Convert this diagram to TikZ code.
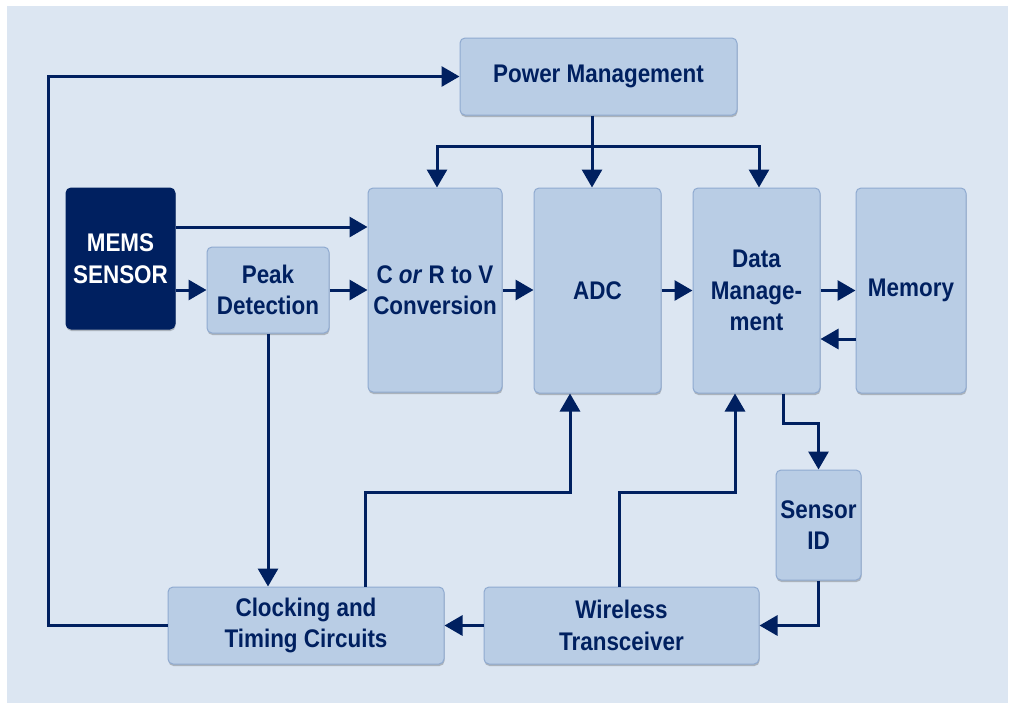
\documentclass[tikz,border=0pt]{standalone}
\usepackage{fontspec}
\setmainfont[FakeStretch=0.88]{Liberation Sans}
\usetikzlibrary{arrows.meta,shadows}
\definecolor{panel}{HTML}{DCE6F2}
\definecolor{boxfill}{HTML}{B9CDE5}
\definecolor{boxline}{HTML}{8FAAD0}
\definecolor{navy}{HTML}{002060}
\begin{document}
\begin{tikzpicture}[x=1pt,y=-1pt,
  blk/.style={draw=boxline, fill=boxfill, line width=1pt, rounded corners=5pt,
    inner sep=0pt, text=navy, align=center, font=\fontsize{25.5}{31.5}\selectfont\bfseries,
    drop shadow={shadow xshift=0.5pt, shadow yshift=-2pt, fill=black, opacity=0.22}},
  dark/.style={blk, fill=navy, draw=navy, text=white},
  conn/.style={draw=navy, line width=3pt, -{Triangle[length=18pt,width=20pt]}}]
\useasboundingbox (0,0) rectangle (1010,707);
\fill[white] (0,0) rectangle (1010,707);
\fill[panel] (7,6) rectangle (1008,703);
\node[blk, minimum width=277pt, minimum height=77pt] (pm) at (598.5,76.5) {Power Management};
\node[dark, minimum width=109pt, minimum height=141pt] (mems) at (120.5,258.5) {MEMS\\SENSOR};
\node[blk, minimum width=122pt, minimum height=86pt] (peak) at (268,290) {Peak\\Detection};
\node[blk, minimum width=134pt, minimum height=204pt] (crv) at (435,290) {C \textit{or} R to V\\Conversion};
\node[blk, minimum width=127pt, minimum height=205pt] (adc) at (597.5,290.5) {ADC};
\node[blk, minimum width=127pt, minimum height=205pt] (dm) at (756.5,290.5) {Data\\Manage-\\ment};
\node[blk, minimum width=110pt, minimum height=205pt] (mem) at (911,290.5) {Memory};
\node[blk, minimum width=85pt, minimum height=110pt] (sid) at (818.5,525) {Sensor\\ID};
\node[blk, minimum width=276pt, minimum height=77pt] (clk) at (306,625.5) {Clocking and\\Timing Circuits};
\node[blk, minimum width=275pt, minimum height=77pt] (wt) at (621.5,625.5) {Wireless\\Transceiver};
\coordinate (lx) at (48,0);
\coordinate (bus) at (592,146);
% feedback loop to power management
\draw[conn] (clk.west) -- (clk.west -| lx) |- (pm.west);
% power distribution
\draw[conn] (pm.south -| bus) -- ([xshift=-5.5pt]adc.north);
\draw[conn] (bus) -| ([xshift=2pt]crv.north);
\draw[conn] (bus) -| ([xshift=2.5pt]dm.north);
% signal path
\draw[conn] ([yshift=31.5pt]mems.east) -- ([yshift=31.5pt]mems.east -| crv.west);
\draw[conn] ([yshift=-31.5pt]mems.east) -- (peak.west);
\draw[conn] (peak.east) -- (peak.east -| crv.west);
\draw[conn] (crv.east) -- (crv.east -| adc.west);
\draw[conn] (adc.east) -- (dm.west);
\draw[conn] (dm.east) -- (mem.west);
\draw[conn] ([yshift=-48.5pt]mem.west) -- ([yshift=-48.5pt]dm.east);
\draw[conn] ([xshift=26.5pt]dm.south) -- ++(0,30) -| (sid.north);
\draw[conn] (peak.south) -- (peak.south |- clk.north);
\draw[conn] ([xshift=59pt]clk.north) -- ++(0,-94) -| ([xshift=-27.5pt]adc.south);
\draw[conn] ([xshift=-2.5pt]wt.north) -- ++(0,-94) -| ([xshift=-21.5pt]dm.south);
\draw[conn] (sid.south) |- (wt.east);
\draw[conn] (wt.west) -- (clk.east);
\end{tikzpicture}
\end{document}
